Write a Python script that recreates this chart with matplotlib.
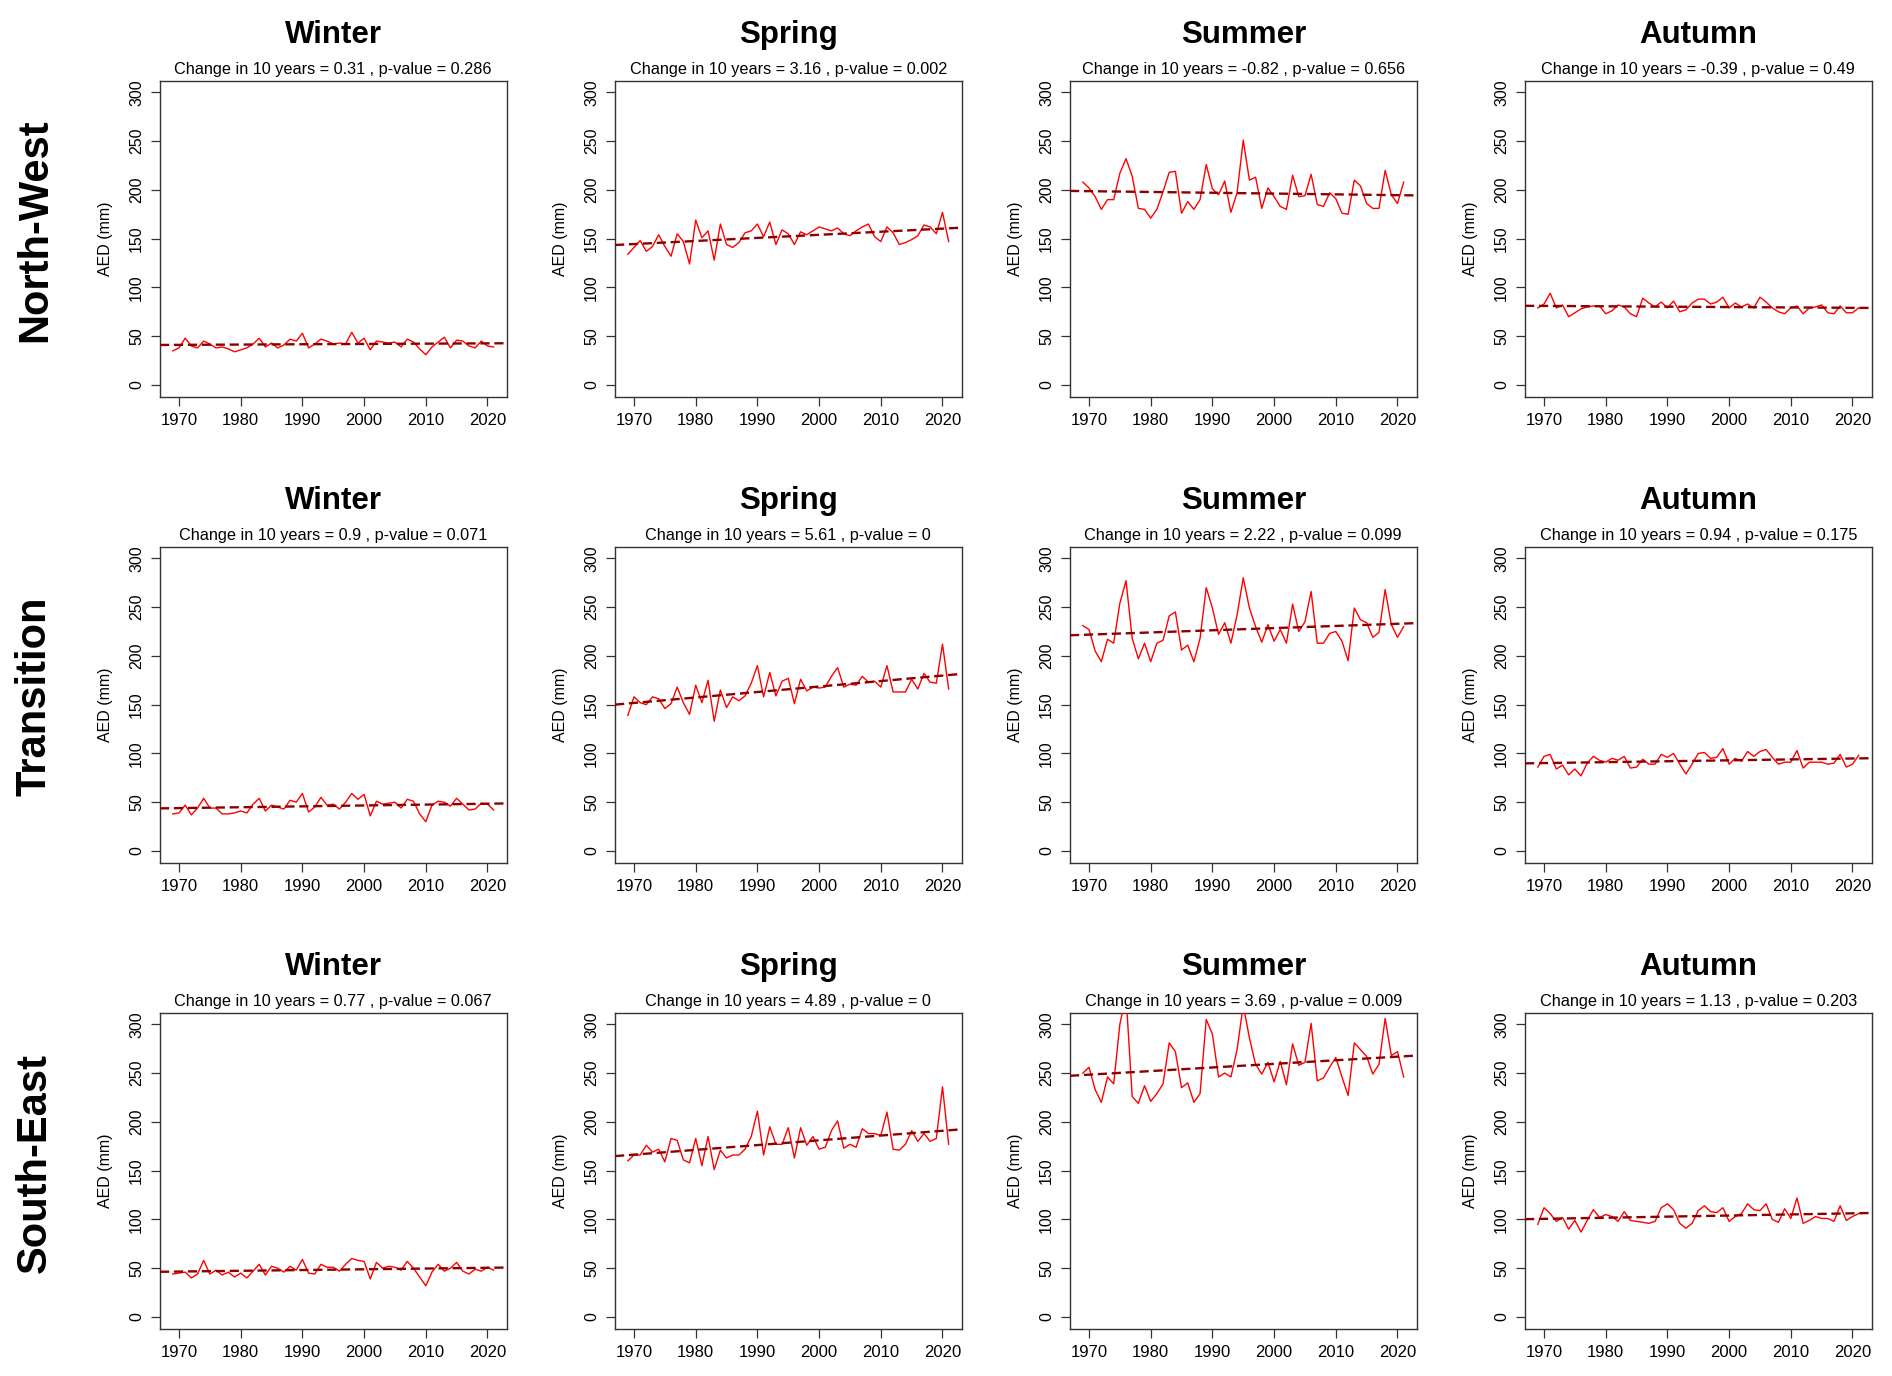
import numpy as np
import matplotlib
matplotlib.use("Agg")
import matplotlib.pyplot as plt

plt.rcParams['font.family'] = ['Liberation Sans', 'DejaVu Sans']

years = np.arange(1969, 2022)
seasons = ["Winter", "Spring", "Summer", "Autumn"]
regions = ["North-West", "Transition", "South-East"]

# ---- North-West ----
nw_winter = [35, 38, 48, 40, 38, 45, 42, 38, 39, 37, 34, 36, 38, 42, 48, 39, 43, 38, 41, 47,
             45, 53, 38, 42, 47, 45, 42, 43, 42, 54, 43, 48, 36, 45, 44, 43, 44, 39, 47, 44,
             37, 31, 39, 44, 49, 38, 46, 45, 40, 38, 45, 40, 39]
nw_spring = [134, 141, 148, 137, 142, 154, 142, 132, 155, 147, 124, 169, 151, 158, 128, 165, 144, 141,
             146, 156, 158, 165, 152, 167, 144, 159, 155, 144, 157, 154, 158, 162, 160, 158, 161, 155,
             153, 158, 162, 165, 152, 147, 162, 156, 144, 146, 149, 153, 164, 162, 155, 177, 147]
nw_summer = [208, 202, 193, 180, 190, 190, 217, 232, 214, 181, 180, 171, 180, 198, 218, 219, 176, 188,
             180, 190, 226, 201, 195, 209, 177, 197, 251, 210, 213, 181, 202, 193, 183, 180, 215, 193,
             194, 216, 185, 183, 197, 191, 176, 175, 210, 204, 186, 181, 181, 220, 195, 186, 208]
nw_autumn = [79, 83, 94, 79, 82, 70, 74, 78, 80, 81, 81, 73, 76, 82, 80, 73, 70, 89, 84, 80,
             85, 79, 86, 75, 77, 84, 88, 88, 83, 85, 90, 79, 84, 80, 83, 79, 90, 85, 79, 75,
             73, 79, 81, 73, 79, 80, 82, 74, 73, 81, 74, 74, 79]

# ---- Transition ----
tr_winter = [38, 39, 47, 37, 44, 54, 44, 44, 38, 38, 39, 41, 39, 48, 54, 41, 47, 45, 43, 52,
             50, 59, 40, 45, 55, 47, 48, 43, 50, 59, 53, 58, 36, 51, 48, 49, 50, 44, 53, 51,
             38, 30, 47, 51, 50, 46, 54, 48, 42, 43, 49, 48, 42]
tr_spring = [139, 158, 152, 150, 158, 156, 146, 151, 168, 152, 140, 170, 152, 175, 133, 165, 147, 158,
             154, 159, 172, 190, 158, 183, 159, 174, 177, 151, 176, 164, 168, 167, 168, 179, 188, 168,
             171, 170, 179, 173, 174, 168, 190, 163, 163, 163, 176, 166, 182, 173, 172, 212, 166]
tr_summer = [231, 227, 205, 194, 217, 213, 254, 277, 218, 197, 213, 194, 213, 216, 241, 245, 206, 211,
             194, 218, 270, 249, 222, 234, 213, 242, 280, 249, 230, 214, 232, 215, 227, 213, 253, 225,
             235, 266, 213, 213, 223, 225, 215, 195, 249, 237, 234, 219, 224, 268, 232, 219, 230]
tr_autumn = [86, 97, 99, 84, 88, 78, 84, 77, 90, 97, 93, 91, 95, 93, 97, 85, 86, 94, 89, 89,
             99, 96, 100, 89, 79, 89, 100, 101, 95, 96, 105, 89, 95, 92, 102, 97, 102, 104, 96, 89,
             91, 91, 103, 85, 91, 91, 91, 89, 90, 99, 86, 89, 98]

# ---- South-East ----
se_winter = [44, 45, 46, 40, 44, 58, 44, 48, 43, 46, 41, 45, 40, 47, 54, 43, 52, 50, 46, 52,
             48, 59, 45, 44, 54, 51, 51, 47, 54, 60, 58, 57, 39, 56, 50, 52, 51, 48, 57, 50,
             41, 32, 46, 54, 47, 50, 56, 47, 44, 49, 47, 51, 48]
se_spring = [160, 166, 166, 176, 169, 172, 159, 183, 181, 161, 158, 183, 155, 185, 151, 171, 163, 166,
             166, 172, 185, 211, 166, 195, 177, 177, 194, 163, 194, 176, 185, 172, 174, 191, 201, 173,
             177, 174, 193, 188, 188, 186, 210, 172, 171, 177, 191, 180, 188, 180, 183, 236, 177]
se_summer = [250, 256, 233, 220, 246, 239, 300, 330, 226, 219, 237, 221, 229, 239, 281, 272, 235, 240,
             220, 229, 305, 290, 246, 250, 246, 274, 320, 286, 259, 249, 261, 241, 262, 238, 280, 258,
             261, 301, 242, 245, 256, 266, 246, 227, 281, 274, 267, 249, 259, 306, 268, 272, 246]
se_autumn = [95, 112, 106, 98, 102, 90, 99, 87, 99, 110, 102, 105, 103, 98, 108, 99, 98, 97, 96, 98,
             112, 116, 110, 96, 91, 96, 109, 114, 108, 107, 112, 98, 103, 106, 116, 110, 109, 116, 100, 97,
             111, 101, 122, 96, 99, 103, 101, 101, 98, 114, 99, 103, 106]

series = [[nw_winter, nw_spring, nw_summer, nw_autumn],
          [tr_winter, tr_spring, tr_summer, tr_autumn],
          [se_winter, se_spring, se_summer, se_autumn]]

change_10y = [[0.31, 3.16, -0.82, -0.39],
              [0.9, 5.61, 2.22, 0.94],
              [0.77, 4.89, 3.69, 1.13]]
p_values = [["0.286", "0.002", "0.656", "0.49"],
            ["0.071", "0", "0.099", "0.175"],
            ["0.067", "0", "0.009", "0.203"]]

yticks = [0, 50, 100, 150, 200, 250, 300]
xticks = [1970, 1980, 1990, 2000, 2010, 2020]

FW, FH = 1892, 1376
fig = plt.figure(figsize=(FW / 100, FH / 100), dpi=100)

col_left = [160, 615, 1070, 1525]
row_top = [80.6, 546.6, 1012.6]
AW, AH = 346.5, 316.1

frame_col = "#333333"

for r in range(3):
    for c in range(4):
        L, T = col_left[c], row_top[r]
        ax = fig.add_axes([L / FW, 1 - (T + AH) / FH, AW / FW, AH / FH])
        y = np.array(series[r][c], dtype=float)
        ax.plot(years, y, color="#FF0000", lw=1.0, zorder=3)
        slope = change_10y[r][c] / 10.0
        x0, y0 = years.mean(), y.mean()
        ax.axline((x0, y0), slope=slope, color="#8B0000", lw=1.7,
                  linestyle=(0, (3.9, 2.0)), zorder=4)
        rng = years[-1] - years[0]
        ax.set_xlim(years[0] - 0.04 * rng, years[-1] + 0.04 * rng)
        ax.set_ylim(-12, 312)
        ax.set_xticks(xticks)
        ax.set_yticks(yticks)
        ax.set_xticklabels([str(t) for t in xticks], fontsize=12)
        ax.set_yticklabels([str(t) for t in yticks], fontsize=11.5, rotation=90, va="center")
        ax.tick_params(axis="x", length=6.5, width=0.9, color=frame_col, pad=5.5)
        ax.tick_params(axis="y", length=6.5, width=0.9, color=frame_col, pad=5.0)
        for s in ax.spines.values():
            s.set_color(frame_col)
            s.set_linewidth(1.0)
        ax.set_ylabel("AED (mm)", fontsize=11.5)
        ax.yaxis.set_label_coords(-47 / AW, 0.5)
        ax.text(0.5, 1 + 38 / AH, seasons[c], transform=ax.transAxes,
                ha="center", va="baseline", fontsize=22.5, fontweight="bold")
        ax.text(0.5, 1 + 6.5 / AH,
                "Change in 10 years = %s , p-value = %s" % (
                    ("%g" % change_10y[r][c]), p_values[r][c]),
                transform=ax.transAxes, ha="center", va="baseline", fontsize=11.7)
    yc = row_top[r] + AH / 2 - 8
    fig.text(35 / FW, 1 - yc / FH, regions[r], rotation=90, ha="center", va="center",
             fontsize=30, fontweight="bold")

fig.savefig("out.png", dpi=100, facecolor="white")
